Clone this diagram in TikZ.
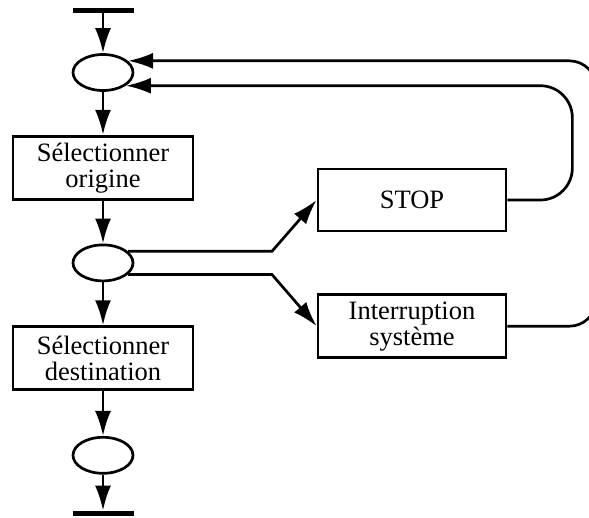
\documentclass[tikz,border=0pt]{standalone}
\usepackage{fontspec}
\setmainfont{Liberation Serif}
\usetikzlibrary{arrows.meta,positioning,shapes.geometric}
\tikzset{
    >={Latex[length=25pt,width=16pt]},
    place/.style={
           ellipse,
           draw=black, line width=2.7pt,
           minimum width=60pt,
           minimum height=36pt,
           inner sep=0pt},
    action/.style={
           rectangle,
           draw=black, line width=2.7pt,
           minimum width=180pt,
           minimum height=63pt,
           align=center,
           font=\fontsize{26.5}{26}\selectfont},
    barre/.style={
           rectangle,
           fill=black,
           minimum width=61pt,
           minimum height=5pt,
           inner sep=0pt},
    fleche/.style={
           ->,
           line width=2.7pt}
}

\begin{document}
\begin{tikzpicture}[x=1pt, y=-1pt, node distance=43pt]
        \useasboundingbox (0,0) rectangle (589,517);
        \clip (0,0) rectangle (589,517);
        \node[barre] (debut) at (103,10.5) {};
        \node[place] (p1) at (103,72.5) {};
        \node[action, below=of p1] (orig) {Sélectionner\\origine};
        \node[place, below=of orig] (p2) {};
        \node[action, below=of p2] (dest) {Sélectionner\\destination};
        \node[place, below=45pt of dest] (p3) {};
        \node[barre, below=36pt of p3] (fin) {};
        \node[action, minimum width=188pt, minimum height=62pt] (stop) at (412,200) {STOP};
        \node[action, minimum width=188pt, below=61pt of stop] (intr) {Interruption\\système};

        \draw[fleche] (debut) -- (p1);
        \draw[fleche] (p1) -- (orig);
        \draw[fleche] (orig) -- (p2);
        \draw[fleche] (p2) -- (dest);
        \draw[fleche] (dest) -- (p3);
        \draw[fleche] (p3) -- (fin);
        \draw[fleche] (p2.25) -- ++(144,0) -- (stop.west);
        \draw[fleche] (p2.-25) -- ++(144,0) -- (intr.west);
        % retours vers la place initiale
        \draw[fleche, rounded corners=32pt] (stop.east) -- ++(65,0) |- (p1.-30);
        \draw[fleche, rounded corners=27pt] (intr.east) -- ++(89,0) |- (p1.25);
\end{tikzpicture}
\end{document}
